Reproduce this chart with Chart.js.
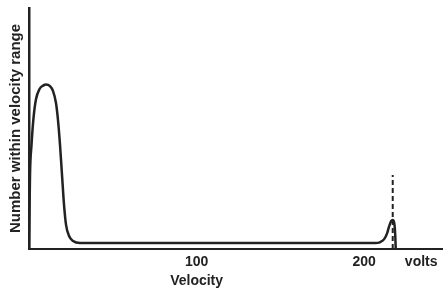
<!DOCTYPE html>
<html>
<head>
<meta charset="utf-8">
<script src="https://cdn.jsdelivr.net/npm/chart.js@4/dist/chart.umd.min.js"></script>
<style>
    body { margin: 0; background: #fff; }
    canvas { display: block; }
</style>
</head>
<body>
<canvas id="chart" width="443" height="292"></canvas>
<script>
// velocity (volts) and relative number
const velocity = [0, 0.6, 1.5, 2.7, 4.2, 6.3, 8.4, 10.2, 12.5, 14.3, 16.1, 17.3, 18.5, 19.7, 20.9, 22.1, 23.9, 26.3, 30.5, 102, 206.6, 209.6, 211.9, 213.7, 214.9, 216.1, 217.0, 217.9, 218.5, 218.8]
const number = [0, 30.7, 43.2, 54.4, 62.2, 66.4, 67.8, 68.3, 67.6, 65.6, 60.6, 53.5, 43.2, 30.7, 18.3, 10.0, 5.4, 3.3, 2.5, 2.5, 2.5, 2.9, 4.1, 6.6, 9.5, 11.6, 12.0, 10.8, 5.8, 0]

// dashed marker line
const markerVelocity = [217, 217]
const markerNumber = [0, 30.7]

const xTickValues = [100, 200, 234]
const xTickLabels = [['100', 'Velocity'], '200', 'volts']

const ink = '#222'

const curve = velocity.map((v, j) => ({x: v, y: number[j]}))
const marker = markerVelocity.map((v, j) => ({x: v, y: markerNumber[j]}))

new Chart(document.getElementById('chart').getContext('2d'), {
    type: 'line',
    data: {
        datasets: [{
            data: curve,
            borderColor: ink,
            borderWidth: 2.5,
            pointRadius: 0,
            cubicInterpolationMode: 'monotone',
            fill: false
        }, {
            data: marker,
            borderColor: ink,
            borderWidth: 2,
            borderDash: [5, 3],
            pointRadius: 0,
            fill: false
        }]
    },
    options: {
        responsive: false,
        devicePixelRatio: 1,
        animation: false,
        layout: {
            padding: {top: 8, left: 0, right: 0, bottom: 0}
        },
        plugins: {
            legend: {display: false},
            tooltip: {enabled: false}
        },
        scales: {
            x: {
                type: 'linear',
                min: 0,
                max: 247,
                grid: {display: false, drawTicks: false},
                border: {display: true, color: ink, width: 2},
                afterBuildTicks: scale => {
                    scale.ticks = xTickValues.map(v => ({value: v}))
                },
                afterFit: scale => {
                    scale.height = 43
                },
                ticks: {
                    autoSkip: false,
                    maxRotation: 0,
                    padding: 4,
                    color: ink,
                    font: {family: 'Liberation Sans', size: 14, weight: 'bold', lineHeight: 1.36},
                    callback: (value, index) => xTickLabels[index]
                }
            },
            y: {
                type: 'linear',
                min: 0,
                max: 100,
                grid: {display: false, drawTicks: false},
                border: {display: true, color: ink, width: 2.5},
                ticks: {display: false},
                afterFit: scale => {
                    scale.width = 29
                },
                title: {
                    display: true,
                    text: 'Number within velocity range',
                    color: ink,
                    padding: {top: 7, bottom: 0},
                    font: {family: 'Liberation Sans', size: 15, weight: 'bold'}
                }
            }
        }
    }
})
</script>
</body>
</html>
